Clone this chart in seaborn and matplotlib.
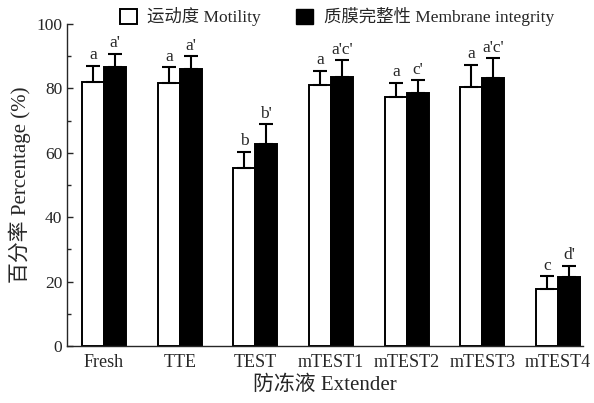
import pandas as pd
import numpy as np
import matplotlib.pyplot as plt
import seaborn as sns
from matplotlib.ticker import MultipleLocator
from matplotlib.patches import Patch

# Data
extenders = ["Fresh", "TTE", "TEST", "mTEST1", "mTEST2", "mTEST3", "mTEST4"]
motility = [82.0, 81.7, 55.2, 81.2, 77.4, 80.5, 17.8]
motility_sd = [5.0, 4.9, 5.1, 4.2, 4.3, 6.8, 3.9]
membrane = [86.6, 86.0, 62.8, 83.5, 78.6, 83.2, 21.5]
membrane_sd = [4.1, 4.0, 6.0, 5.2, 3.9, 6.1, 3.4]
motility_letters = ["a", "a", "b", "a", "a", "a", "c"]
membrane_letters = ["a'", "a'", "b'", "a'c'", "c'", "a'c'", "d'"]

series_names = ["运动度 Motility", "质膜完整性 Membrane integrity"]

sns.set_style("ticks")
plt.rcParams["font.family"] = ["Liberation Serif", "Noto Sans CJK SC"]

df = pd.DataFrame({
    "extender": extenders * 2,
    "value": motility + membrane,
    "series": [series_names[0]] * len(extenders) + [series_names[1]] * len(extenders),
})

fig = plt.figure(figsize=(5.94, 4.03), dpi=100)
ax = fig.add_axes([0.1128, 0.1414, 0.8687, 0.799])

sns.barplot(data=df, x="extender", y="value", hue="series",
            palette=["white", "black"], edgecolor="black", linewidth=1.4,
            width=0.58, errorbar=None, legend=False, ax=ax)

# upward-only error bars + significance letters
sds = [motility_sd, membrane_sd]
letters = [motility_letters, membrane_letters]
bar_conts = list(ax.containers)
for k, cont in enumerate(bar_conts):
    for i, bar in enumerate(cont.patches):
        xc = bar.get_x() + bar.get_width() / 2
        h = bar.get_height()
        ax.errorbar(xc, h, yerr=[[0], [sds[k][i]]], fmt="none", ecolor="black",
                    elinewidth=1.5, capsize=5, capthick=1.5)
        ax.text(xc, h + sds[k][i] + 0.8, letters[k][i], ha="center", va="bottom",
                fontsize=12.5)

ax.set_xlim(-0.49, 6.33)
ax.set_ylim(0, 100)
ax.yaxis.set_major_locator(MultipleLocator(20))
ax.yaxis.set_minor_locator(MultipleLocator(10))
ax.tick_params(axis="y", direction="in", length=4, width=1, labelsize=12.5)
ax.tick_params(axis="y", which="minor", direction="in", length=3, width=1)
ax.tick_params(axis="x", length=0, labelsize=13, pad=6)
sns.despine(ax=ax)
for s in ["left", "bottom"]:
    ax.spines[s].set_linewidth(1)

ax.set_xlabel("防冻液 Extender", fontsize=15, labelpad=3)
ax.set_ylabel("百分率 Percentage (%)", fontsize=15, labelpad=4)

handles = [Patch(facecolor="white", edgecolor="black", linewidth=1.4),
           Patch(facecolor="black", edgecolor="black")]
fig.legend(handles, series_names, loc="center", bbox_to_anchor=(0.567, 0.958),
           ncol=2, frameon=False, fontsize=12.5, handlelength=1.0, handleheight=1.0,
           handletextpad=0.6, columnspacing=2.0)

fig.savefig("out.png", dpi=100)
